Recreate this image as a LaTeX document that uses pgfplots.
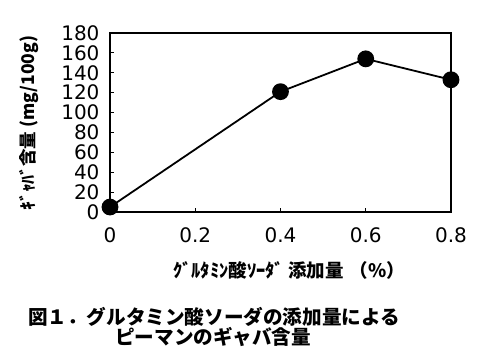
\documentclass[border=0pt]{standalone}
\usepackage{fontspec}
\setmainfont{DejaVu Sans}
\newfontfamily\jpfont{Noto Sans CJK JP}
\usepackage{pgfplots}
\pgfplotsset{compat=1.18}
\newcommand{\jpbig}{\jpfont\bfseries\fontsize{19.6}{19.6}\selectfont}
\newcommand{\jpx}{\jpfont\bfseries\fontsize{18.5}{18.5}\selectfont}
\newcommand{\jpy}{\jpfont\bfseries\fontsize{17.5}{17.5}\selectfont}
\begin{document}
\begin{tikzpicture}[x=1pt,y=1pt]
\path[use as bounding box] (0,0) rectangle (480,-361);
\begin{axis}[
  at={(110pt,-212pt)}, anchor=south west,
  scale only axis, width=341pt, height=179pt,
  xmin=0, xmax=0.8, ymin=0, ymax=180,
  xtick={0,0.2,0.4,0.6,0.8},
  xticklabels={0,0.2,0.4,0.6,0.8},
  ytick={0,20,...,180},
  tick align=inside, xtick pos=left, ytick pos=left,
  major tick length=4pt,
  axis line style={line width=1.7pt},
  tick style={line width=1pt, black},
  /pgf/number format/assume math mode=true,
  tick label style={font=\fontsize{20}{20}\selectfont},
  yticklabel style={xshift=-7pt},
  xticklabel style={yshift=-12pt},
  clip=false,
]
\addplot[black, line width=1.8pt, mark=*, mark size=7.5pt] coordinates {
  (0,5) (0.4,121) (0.6,154) (0.8,133)
};
\end{axis}
\node[rotate=90, font=\jpy] at (29,-123) {ｷﾞｬﾊﾞ含量 (mg/100g)};
\node[font=\jpx] at (289,-270) {ｸﾞﾙﾀﾐﾝ酸ｿｰﾀﾞ 添加量\hspace{0.3em}（\%）};
\node[anchor=west, font=\jpbig, inner sep=0pt] at (28,-316.5) {図１．グルタミン酸ソーダの添加量による};
\node[anchor=west, font=\jpbig, inner sep=0pt] at (115,-337) {ピーマンのギャバ含量};
\end{tikzpicture}
\end{document}
